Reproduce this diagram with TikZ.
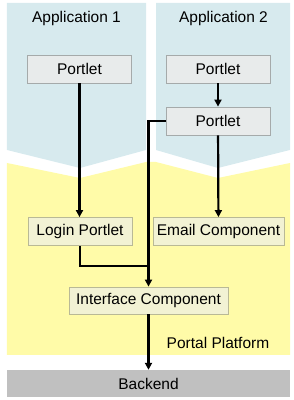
\documentclass[tikz,border=0pt]{standalone}
\usepackage{fontspec}
\setmainfont{Liberation Sans}
\usepackage{xcolor}
\definecolor{appblue}{RGB}{215,234,238}
\definecolor{platform}{RGB}{255,251,168}
\definecolor{portletfill}{RGB}{232,235,235}
\definecolor{portletline}{RGB}{165,170,170}
\definecolor{compfill}{RGB}{242,242,212}
\definecolor{compline}{RGB}{185,185,150}
\definecolor{backend}{RGB}{192,192,192}
\usepackage{tikz}
\usetikzlibrary{positioning, arrows.meta, calc}

\begin{document}
\begin{tikzpicture}[
  x=10pt, y=10pt,
  portlet/.style={draw=portletline, fill=portletfill, line width=0.8pt,
                  minimum width=104pt, minimum height=28pt, inner sep=0pt,
                  font=\fontsize{15.5}{18}\selectfont},
  comp/.style={draw=compline, fill=compfill, line width=0.8pt,
               minimum height=28pt, inner sep=0pt,
               font=\fontsize{15.5}{18}\selectfont},
  label/.style={font=\fontsize{15.5}{18}\selectfont},
  link/.style={line width=2.2pt, black},
  flow/.style={link, -{Triangle[length=7pt, width=7pt]}},
]
  \useasboundingbox (0,0) rectangle (29.4,40);

  % Application panels and platform area
  \fill[appblue] (0.7,39.7) -- (14.6,39.7) -- (14.6,25.0) -- (8.0,23.2) -- (0.7,25.0) -- cycle;
  \fill[appblue] (15.6,39.7) -- (29.0,39.7) -- (29.0,25.0) -- (21.8,23.2) -- (15.6,25.0) -- cycle;
  \fill[platform] (0.7,23.7) -- (8.0,22.2) -- (14.6,23.8) -- (15.6,23.8) -- (21.8,22.2)
                  -- (29.0,23.7) -- (29.0,4.5) -- (0.7,4.5) -- cycle;
  \fill[backend] (0.7,0.3) rectangle (29.0,3.0);

  \node[label] (app1) at (7.65,38.2) {Application 1};
  \node[label] (app2) at (22.35,38.2) {Application 2};

  \node[portlet] (portletA) at (7.95,33.1) {Portlet};
  \node[portlet] (portletB) at (21.8,33.1) {Portlet};
  \node[portlet] (portletC) at (21.8,27.9) {Portlet};

  \node[comp, minimum width=104pt] (login) at (8.0,16.85) {Login Portlet};
  \node[comp, minimum width=131pt] (email) at (21.85,16.85) {Email Component};
  \node[comp, minimum width=159pt, minimum height=27pt] (iface) at (14.85,9.95) {Interface Component};

  \node[label] (platformlabel) at (21.8,5.7) {Portal Platform};
  \node[label, minimum width=283pt, minimum height=27pt, inner sep=0pt] (back) at (14.85,1.65) {Backend};

  \coordinate (join) at (14.85,13.4);

  \draw[flow] (portletA.south) -- (portletA.south |- login.north);
  \draw[flow] (portletB) -- (portletC);
  \draw[flow] (portletC) -- (email);
  \draw[flow] (portletC.west) -| (iface.north);
  \draw[link] (login.south) |- (join);
  \draw[flow] (iface.south) -- (iface.south |- back.north);
\end{tikzpicture}
\end{document}
